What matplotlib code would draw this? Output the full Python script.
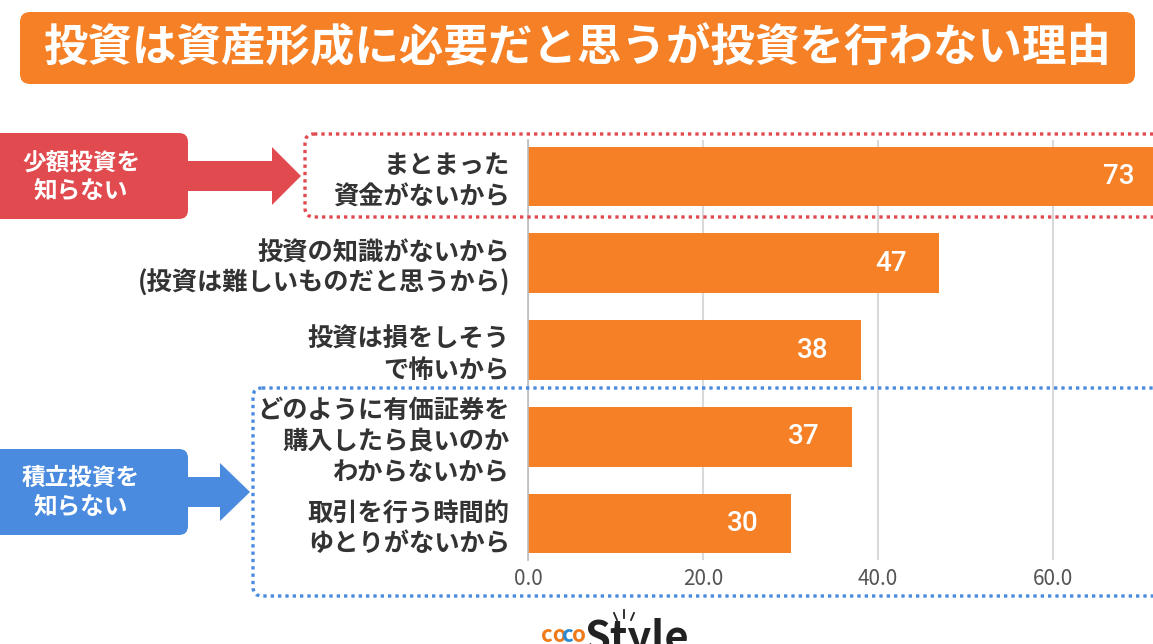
import matplotlib
matplotlib.use("Agg")
import matplotlib.pyplot as plt
from matplotlib.patches import FancyBboxPatch, Polygon
from matplotlib.transforms import Affine2D

plt.rcParams['font.family'] = ['Noto Sans CJK JP', 'DejaVu Sans']

title = "投資は資産形成に必要だと思うが投資を行わない理由"
categories = [
    "まとまった\n資金がないから",
    "投資の知識がないから\n(投資は難しいものだと思うから)",
    "投資は損をしそう\nで怖いから",
    "どのように有価証券を\n購入したら良いのか\nわからないから",
    "取引を行う時間的\nゆとりがないから",
]
values = [73, 47, 38, 37, 30]
xticks = [0, 20, 40, 60]
group_labels = ["少額投資を\n知らない", "積立投資を\n知らない"]

ORANGE = "#F58025"
RED = "#E14B4F"
BLUE = "#4A8BE0"
W, H = 1153, 644

fig = plt.figure(figsize=(W / 100, H / 100), dpi=100)
px = Affine2D().scale(1 / W, -1 / H).translate(0, 1) + fig.transFigure

# Title box
fig.patches.append(FancyBboxPatch((20, 12), 1115, 72, boxstyle="round,pad=0,rounding_size=10",
                                  transform=px, facecolor=ORANGE, edgecolor="none"))
fig.text(577, 48, title, transform=px, ha="center", va="center", color="white",
         fontsize=32, fontweight="bold")

# Axes
ax = fig.add_axes([528 / W, 1 - 560 / H, (W - 528) / W, 420 / H])
ypos = list(range(len(values)))
ax.barh(ypos, values, height=0.69, color=ORANGE, zorder=3)
ax.set_ylim(4.42, -0.42)
ax.set_xlim(0, (W - 528) / 8.75)
ax.set_xticks(xticks)
ax.set_xticklabels([f"{v:.1f}" for v in xticks], fontsize=15, color="#555555")
ax.set_yticks(ypos)
ax.set_yticklabels(categories, fontsize=18.2, fontweight="bold", color="#333333",
                   linespacing=1.18)
ax.tick_params(axis="both", length=0)
ax.tick_params(axis="y", pad=13)
ax.tick_params(axis="x", pad=6)
ax.grid(axis="x", color="#d9d9d9", linewidth=1.5, zorder=0)
for s in ["top", "right", "bottom"]:
    ax.spines[s].set_visible(False)
ax.spines["left"].set_color("#bbbbbb")
ax.spines["left"].set_linewidth(1.2)
ax.spines["left"].set_zorder(4)

for y, v in zip(ypos, values):
    ax.annotate(str(v), xy=(v, y), xytext=(-23, 0), textcoords="offset points",
                ha="right", va="center", color="white", fontsize=20,
                family=["Roboto", "Noto Sans CJK JP"], fontweight="medium",
                annotation_clip=False, clip_on=False, zorder=5)

# Dotted group boxes
fig.patches.append(FancyBboxPatch((305, 134), 1000, 83, boxstyle="round,pad=0,rounding_size=9",
                                  transform=px, facecolor="none", edgecolor=RED,
                                  linewidth=2.4, linestyle=(0, (1, 1.2)), zorder=6))
fig.patches.append(FancyBboxPatch((253, 388), 1000, 208, boxstyle="round,pad=0,rounding_size=9",
                                  transform=px, facecolor="none", edgecolor=BLUE,
                                  linewidth=2.4, linestyle=(0, (1, 1.2)), zorder=6))

# Group label boxes with arrows
def label_box(top, bottom, color, head_x0, tip_x, text):
    cy = (top + bottom) / 2
    fig.patches.append(FancyBboxPatch((-12, top), 200, bottom - top,
                                      boxstyle="round,pad=0,rounding_size=9",
                                      transform=px, facecolor=color, edgecolor="none"))
    shaft = 15
    head = 29
    fig.patches.append(Polygon([(180, cy - shaft), (head_x0, cy - shaft), (head_x0, cy - head),
                                (tip_x, cy), (head_x0, cy + head), (head_x0, cy + shaft),
                                (180, cy + shaft)], closed=True, transform=px,
                               facecolor=color, edgecolor="none"))
    fig.text(81, cy + 1, text, transform=px, ha="center", va="center", color="white",
             fontsize=17, fontweight="bold", linespacing=1.3)

label_box(133, 219, RED, 272, 301, group_labels[0])
label_box(449, 535, BLUE, 220, 250, group_labels[1])

# Logo (partially cropped at bottom)
fig.text(541, 624, "co", transform=px, ha="left", va="top", color="#EE7A1A",
         fontsize=16, fontweight="bold", style="italic")
fig.text(562, 624, "c", transform=px, ha="left", va="top", color="#2B8AD0",
         fontsize=16, fontweight="bold", style="italic")
fig.text(572, 624, "o", transform=px, ha="left", va="top", color="#EE7A1A",
         fontsize=16, fontweight="bold", style="italic")
fig.text(584, 618, "Style", transform=px, ha="left", va="top", color="#222222",
         fontsize=30, fontweight="bold", style="italic")
for (x0, y0, x1, y1) in [(614, 613, 617, 620), (624, 610, 624, 618), (634, 613, 631, 620)]:
    fig.lines.append(plt.Line2D([x0, x1], [y0, y1], transform=px, color="#222222", linewidth=1.3))

fig.savefig("out.png", dpi=100)
